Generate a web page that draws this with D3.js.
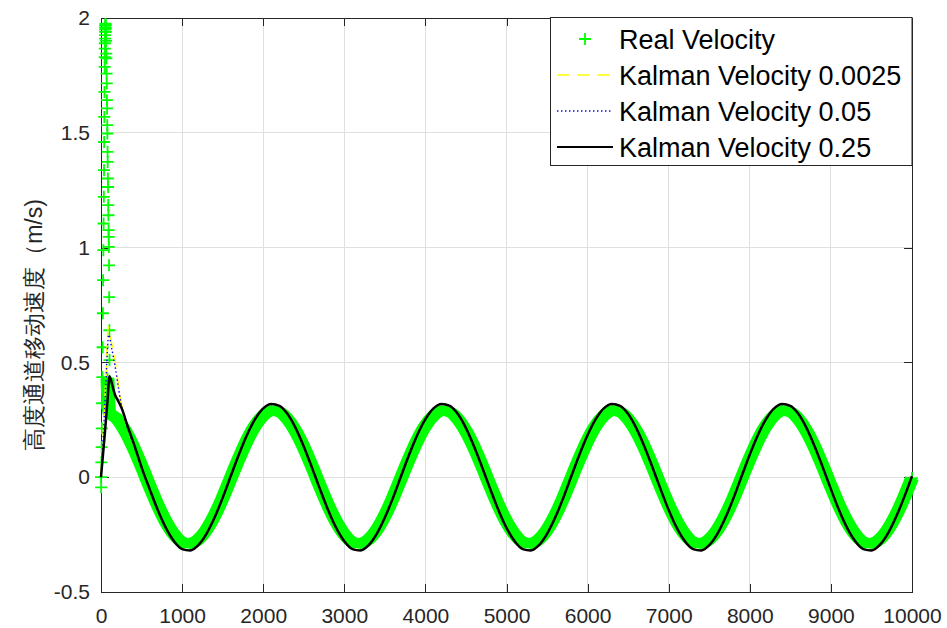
<!DOCTYPE html>
<html>
<head>
<meta charset="utf-8">
<script src="https://cdn.jsdelivr.net/npm/d3@7"></script>
<style>
  html, body { margin: 0; padding: 0; background: #fff; }
  svg { display: block; }
  text { font-family: "Liberation Sans", Arial, Helvetica, sans-serif; }
</style>
</head>
<body>
<svg id="chart" width="947" height="628"></svg>
<script>
// ---------------- data ----------------
const xTickValues = [0, 1000, 2000, 3000, 4000, 5000, 6000, 7000, 8000, 9000, 10000];
const yTickValues = [-0.5, 0, 0.5, 1, 1.5, 2];
const yTickLabels = ["-0.5", "0", "0.5", "1", "1.5", "2"];

const seriesNames = ["Real Velocity", "Kalman Velocity 0.0025", "Kalman Velocity 0.05", "Kalman Velocity 0.25"];
const yLabel = "高度通道移动速度（m/s)";

// start-up burst of the measured velocity (individual samples)
const burstX = [0, 2, 5, 8, 11, 14, 17, 20, 23, 26, 29, 32, 35, 37, 39, 41, 43, 45, 46, 47, 48, 49, 50, 51, 52, 53, 54, 55,
                57, 59, 61, 63, 65, 67, 69, 71, 73, 75, 77, 79, 81, 83, 85, 87, 89, 91, 93, 95, 97, 99, 101, 103, 105, 107];
const burstV = [0, -0.044, 0.065, 0.131, 0.213, 0.322, 0.436, 0.566, 0.714, 0.858, 0.989, 1.105, 1.221, 1.337, 1.46, 1.569, 1.678, 1.787, 1.83, 1.867, 1.89, 1.91, 1.925, 1.94, 1.95, 1.96, 1.968, 1.975,
                1.97, 1.955, 1.94, 1.9, 1.845, 1.824, 1.758, 1.715, 1.642, 1.606, 1.533, 1.497, 1.417, 1.373, 1.301, 1.264, 1.185, 1.141, 1.076, 1.047, 1.003, 0.923, 0.784, 0.64, 0.51, 0.357];

// measured velocity after the burst
const realX = [80].concat(d3.range(100, 10001, 100));
const realV = [0.43,
  0.284, 0.253, 0.200, 0.130, 0.048, -0.039, -0.122, -0.194, -0.249, -0.282, -0.289, -0.271, -0.229, -0.167, -0.090, -0.004, 0.081, 0.160, 0.224, 0.268, 0.289,
  0.284, 0.253, 0.200, 0.130, 0.048, -0.039, -0.122, -0.194, -0.249, -0.282, -0.289, -0.271, -0.229, -0.167, -0.090, -0.004, 0.081, 0.160, 0.224, 0.268, 0.289,
  0.284, 0.253, 0.200, 0.130, 0.048, -0.039, -0.122, -0.194, -0.249, -0.282, -0.289, -0.271, -0.229, -0.167, -0.090, -0.004, 0.081, 0.160, 0.224, 0.268, 0.289,
  0.284, 0.253, 0.200, 0.130, 0.048, -0.039, -0.122, -0.194, -0.249, -0.282, -0.289, -0.271, -0.229, -0.167, -0.090, -0.004, 0.081, 0.160, 0.224, 0.268, 0.289,
  0.284, 0.253, 0.200, 0.130, 0.048, -0.039, -0.122, -0.194, -0.249, -0.282, -0.289, -0.271, -0.229, -0.167, -0.090, -0.004];

// Kalman estimates: separate start-up transients, common settled part
const yellowHeadX = [0, 30, 60, 90, 130, 172, 215, 255, 330, 420];
const yellowHeadV = [0, 0.20, 0.43, 0.655, 0.585, 0.51, 0.40, 0.31, 0.21, 0.125];
const blueHeadX = [0, 30, 60, 95, 135, 175, 215, 255, 330, 420];
const blueHeadV = [0, 0.19, 0.41, 0.62, 0.555, 0.48, 0.39, 0.305, 0.21, 0.125];
const blackHeadX = [0, 40, 80, 105, 140, 172, 215, 255, 330, 420];
const blackHeadV = [0, 0.16, 0.33, 0.44, 0.40, 0.36, 0.33, 0.30, 0.22, 0.13];

const kalmanTailX = d3.range(500, 10001, 100);
const kalmanTailV = [
  0.043, -0.052, -0.143, -0.221, -0.279, -0.313, -0.319, -0.296, -0.247, -0.176, -0.090, 0.005, 0.099, 0.184, 0.253, 0.300, 0.319,
  0.311, 0.275, 0.214, 0.134, 0.043, -0.052, -0.143, -0.221, -0.279, -0.313, -0.319, -0.296, -0.247, -0.176, -0.090, 0.005, 0.099, 0.184, 0.253, 0.300, 0.319,
  0.311, 0.275, 0.214, 0.134, 0.043, -0.052, -0.143, -0.221, -0.279, -0.313, -0.319, -0.296, -0.247, -0.176, -0.090, 0.005, 0.099, 0.184, 0.253, 0.300, 0.319,
  0.311, 0.275, 0.214, 0.134, 0.043, -0.052, -0.143, -0.221, -0.279, -0.313, -0.319, -0.296, -0.247, -0.176, -0.090, 0.005, 0.099, 0.184, 0.253, 0.300, 0.319,
  0.311, 0.275, 0.214, 0.134, 0.043, -0.052, -0.143, -0.221, -0.279, -0.313, -0.319, -0.296, -0.247, -0.176, -0.090, 0.005];

// ---------------- layout ----------------
const svg = d3.select("#chart");
const plot = { left: 101, right: 912, top: 18, bottom: 592 };
const axisColor = "#262626";

const x = d3.scaleLinear().domain([0, 10000]).range([plot.left, plot.right]);
const y = d3.scaleLinear().domain([-0.5, 2]).range([plot.bottom, plot.top]);

const zip = (xs, vs) => xs.map((d, i) => [d, vs[i]]);
const realPts = zip(realX, realV);
const burstPts = zip(burstX, burstV);
const kalman = [
  { pts: zip(yellowHeadX, yellowHeadV).concat(zip(kalmanTailX, kalmanTailV)), color: "#ffff00", width: 1.6, dash: "12,8" },
  { pts: zip(blueHeadX, blueHeadV).concat(zip(kalmanTailX, kalmanTailV)), color: "#0000ff", width: 1.4, dash: "1.4,2.6" },
  { pts: zip(blackHeadX, blackHeadV).concat(zip(kalmanTailX, kalmanTailV)), color: "#000000", width: 2.5, dash: null }
];

// background
svg.append("rect").attr("width", 947).attr("height", 628).attr("fill", "#fff");

// grid
const grid = svg.append("g").attr("shape-rendering", "crispEdges");
grid.selectAll("line.gx").data(xTickValues.slice(1, -1)).join("line")
  .attr("x1", d => x(d)).attr("x2", d => x(d)).attr("y1", plot.top).attr("y2", plot.bottom)
  .attr("stroke", "#dfdfdf").attr("stroke-width", 1);
grid.selectAll("line.gy").data(yTickValues.slice(1, -1)).join("line")
  .attr("x1", plot.left).attr("x2", plot.right).attr("y1", d => y(d)).attr("y2", d => y(d))
  .attr("stroke", "#dfdfdf").attr("stroke-width", 1);

// axes (ticks point inward, box on)
const tickLen = 8;
function styleAxis(g) {
  g.selectAll("path.domain").attr("stroke", axisColor).attr("stroke-width", 1);
  g.selectAll(".tick line").attr("stroke", axisColor).attr("stroke-width", 1);
  g.selectAll(".tick text").attr("fill", axisColor).attr("font-size", 21)
    .attr("font-family", "'Liberation Sans', Arial, sans-serif");
  g.attr("shape-rendering", "crispEdges");
}
const axes = svg.append("g");
axes.append("g").attr("transform", `translate(0,${plot.bottom})`)
  .call(d3.axisBottom(x).tickValues(xTickValues).tickSize(-tickLen).tickPadding(16).tickSizeOuter(0).tickFormat(d3.format("d")))
  .call(styleAxis);
axes.append("g").attr("transform", `translate(0,${plot.top})`)
  .call(d3.axisTop(x).tickValues(xTickValues).tickSize(-tickLen).tickSizeOuter(0).tickFormat(""))
  .call(styleAxis);
axes.append("g").attr("transform", `translate(${plot.left},0)`)
  .call(d3.axisLeft(y).tickValues(yTickValues).tickSize(-tickLen).tickPadding(11).tickSizeOuter(0)
    .tickFormat((d, i) => yTickLabels[i]))
  .call(styleAxis);
axes.append("g").attr("transform", `translate(${plot.right},0)`)
  .call(d3.axisRight(y).tickValues(yTickValues).tickSize(-tickLen).tickSizeOuter(0).tickFormat(""))
  .call(styleAxis);

// y-axis label
svg.append("text")
  .attr("transform", `translate(34,325) rotate(-90)`)
  .attr("text-anchor", "middle")
  .attr("dominant-baseline", "central")
  .attr("font-family", "'Noto Sans CJK SC', 'Liberation Sans', sans-serif")
  .attr("font-size", 23)
  .attr("fill", axisColor)
  .text(yLabel);

// ---------------- marks ----------------
const green = "#00ff00";
const plusPath = "M-6,0H6M0,-6V6";
const line = d3.line().x(d => x(d[0])).y(d => y(d[1])).curve(d3.curveMonotoneX);

const marks = svg.append("g");

// measured velocity: dense '+' markers sweep into a thick band
[-2, 2].forEach(dx => {
  marks.append("path").datum(realPts)
    .attr("d", line).attr("transform", `translate(${dx},0)`)
    .attr("fill", "none").attr("stroke", green).attr("stroke-width", 10)
    .attr("stroke-linejoin", "round");
});
marks.selectAll("path.real").data(realPts.concat(burstPts)).join("path")
  .attr("transform", d => `translate(${x(d[0])},${y(d[1])})`)
  .attr("d", plusPath).attr("stroke", green).attr("stroke-width", 1.8).attr("fill", "none");

// Kalman estimates
kalman.forEach(s => {
  marks.append("path").datum(s.pts)
    .attr("d", line).attr("fill", "none")
    .attr("stroke", s.color).attr("stroke-width", s.width)
    .attr("stroke-dasharray", s.dash)
    .attr("stroke-linejoin", "round");
});

// ---------------- legend ----------------
const lg = svg.append("g");
lg.append("rect").attr("x", 550.5).attr("y", 17.5).attr("width", 361.5).attr("height", 148)
  .attr("fill", "#fff").attr("stroke", axisColor).attr("stroke-width", 1);
const rowY = [39, 75, 111, 147];
const styles = [null, kalman[0], kalman[1], kalman[2]];
seriesNames.forEach((name, i) => {
  const cy = rowY[i];
  if (i === 0) {
    lg.append("path").attr("transform", `translate(585,${cy})`).attr("d", plusPath)
      .attr("stroke", green).attr("stroke-width", 1.8).attr("fill", "none");
  } else {
    const s = styles[i];
    lg.append("line").attr("x1", 557).attr("x2", 613).attr("y1", cy).attr("y2", cy)
      .attr("stroke", s.color).attr("stroke-width", Math.min(s.width, 2)).attr("stroke-dasharray", s.dash);
  }
  lg.append("text").attr("x", 619).attr("y", cy).attr("dy", "0.36em")
    .attr("font-size", 27).attr("fill", "#000").text(name);
});
</script>
</body>
</html>
